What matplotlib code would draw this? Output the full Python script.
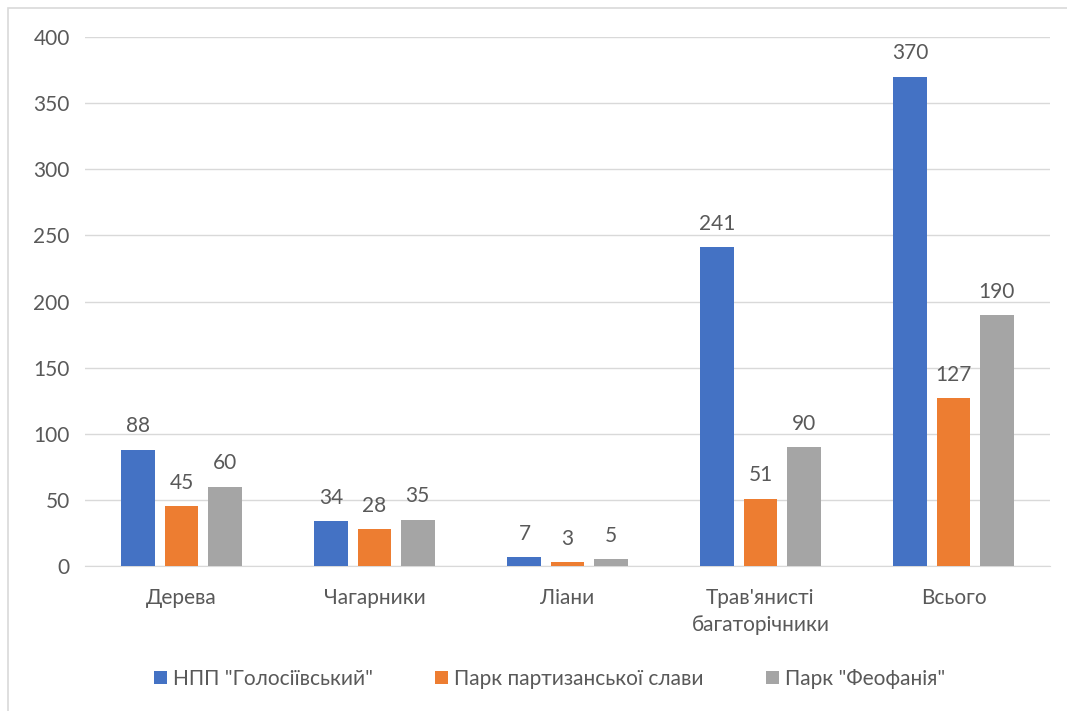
import numpy as np
import matplotlib.pyplot as plt
from matplotlib.patches import Rectangle

plt.rcParams['font.family'] = ['Lato', 'Noto Sans', 'DejaVu Sans']

categories = ["Дерева", "Чагарники", "Ліани", "Трав'янисті\nбагаторічники", "Всього"]
series_names = ['НПП "Голосіївський"', 'Парк партизанської слави', 'Парк "Феофанія"']
golosiiv = [88, 34, 7, 241, 370]
partyzan = [45, 28, 3, 51, 127]
feofania = [60, 35, 5, 90, 190]
colors = ['#4472C4', '#ED7D31', '#A5A5A5']
text_col = '#595959'

fig = plt.figure(figsize=(10.67, 7.11), dpi=100)
fig.patches.append(Rectangle((8 / 1067, -0.1), 1.2, (711 - 8) / 711 + 0.1,
                             transform=fig.transFigure, fill=False,
                             edgecolor='#D9D9D9', lw=1.2))
ax = fig.add_axes([85 / 1067, (711 - 566) / 711, 965 / 1067, 529 / 711])

x = np.arange(len(categories))
w = 0.176
step = 0.223
for i, (vals, name) in enumerate(zip([golosiiv, partyzan, feofania], series_names)):
    pos = x + (i - 1) * step
    ax.bar(pos, vals, w, color=colors[i], label=name, zorder=3)
    for p, v in zip(pos, vals):
        ax.text(p, v + 10, str(v), ha='center', va='bottom', fontsize=15, color=text_col)

ax.set_xlim(-0.5, len(categories) - 0.5)
ax.set_ylim(0, 400)
ax.set_yticks(range(0, 401, 50))
ax.grid(axis='y', color='#D9D9D9', lw=1, zorder=0)
for s in ['top', 'right', 'left']:
    ax.spines[s].set_visible(False)
ax.spines['bottom'].set_color('#D9D9D9')
ax.set_xticks(x)
ax.set_xticklabels(categories, linespacing=1.45)
ax.tick_params(axis='both', length=0, labelsize=15, colors=text_col)
ax.tick_params(axis='x', pad=16)
ax.tick_params(axis='y', pad=11)

leg = fig.legend(loc='center', bbox_to_anchor=(0.515, (711 - 679) / 711), ncol=3,
                 frameon=False, fontsize=15, handlelength=0.6, handleheight=0.6,
                 handletextpad=0.3, columnspacing=3.0)
for t in leg.get_texts():
    t.set_color(text_col)

fig.savefig('out.png', dpi=100)
